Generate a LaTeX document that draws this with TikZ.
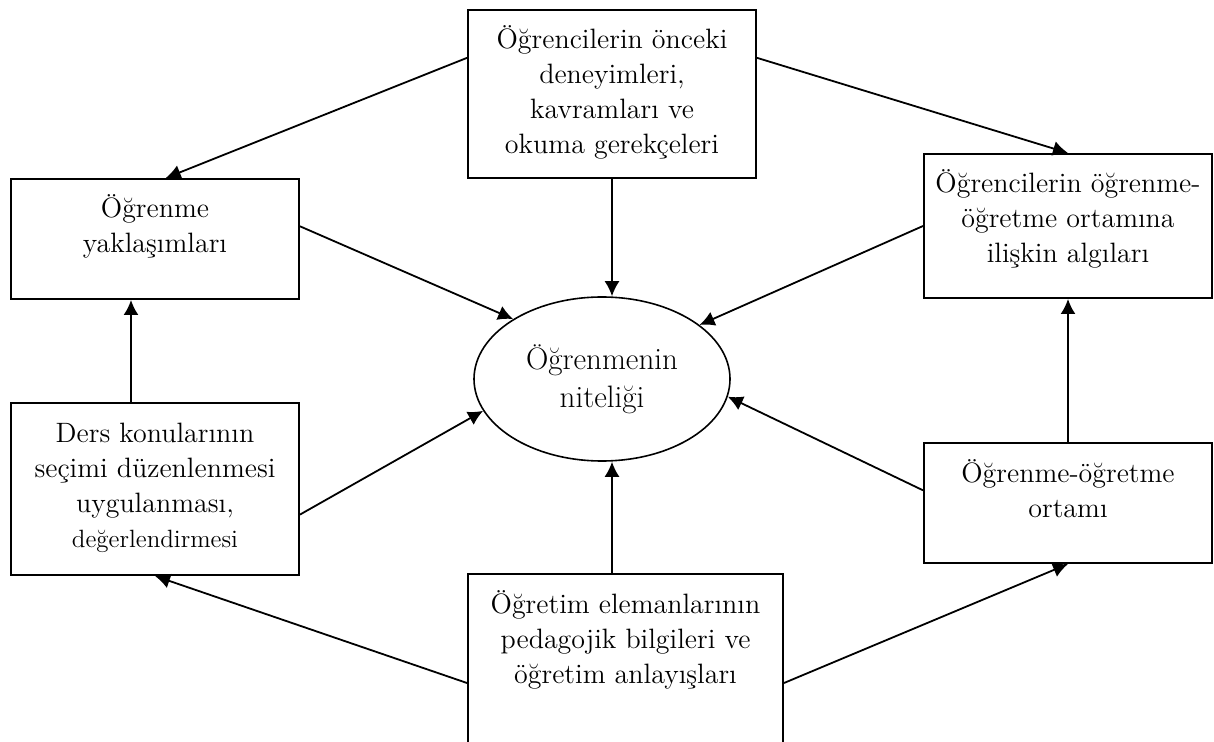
\documentclass[tikz,border=0pt]{standalone}
\usepackage{fontspec}
\usepackage{tikz}
\usetikzlibrary{shapes.geometric, arrows.meta}
\newcommand{\kutuyazi}[3]{\parbox[b][#2][t]{#1}{\centering\rule{0pt}{19.5pt}#3}}

\begin{document}
\begin{tikzpicture}[x=.5pt, y=-.5pt, font=\fontsize{14}{17.5}\selectfont,
	kutu/.style={draw, line width=1pt, inner sep=0pt, anchor=north west},
	ok/.style={line width=.9pt, -{Latex[length=7.5pt, width=7.5pt]}}]
	\useasboundingbox (0, 0) rectangle (1214, 742);
	\node[kutu](ust) at (467, 9) {\kutuyazi{144pt}{84pt}{Öğrencilerin önceki\\deneyimleri,\\kavramları ve\\okuma gerekçeleri}};
	\node[kutu](sol1) at (10, 178) {\kutuyazi{144pt}{60pt}{Öğrenme\\yaklaşımları}};
	\node[kutu](sag1) at (923, 153) {\kutuyazi{144pt}{72pt}{Öğrencilerin öğrenme-\\öğretme ortamına\\ilişkin algıları}};
	\node[kutu](sol2) at (10, 402) {\kutuyazi{144pt}{86pt}{Ders konularının\\seçimi düzenlenmesi\\uygulanması,\\{\fontsize{12.5}{15}\selectfont değerlendirmesi}}};
	\node[kutu](sag2) at (923, 442) {\kutuyazi{144pt}{60pt}{Öğrenme-öğretme\\ortamı}};
	\node[kutu](alt) at (467, 573) {\kutuyazi{157.5pt}{109pt}{Öğretim elemanlarının\\pedagojik bilgileri ve\\öğretim anlayışları}};
	\node[draw, ellipse, line width=.8pt, inner sep=0pt, minimum width=128pt, minimum height=82pt,
		align=center, font=\fontsize{15.5}{19}\selectfont](elips) at (602, 379) {Öğrenmenin\\niteliği};
	% oklar
	\draw[ok](ust.166)--(sol1.80);
	\draw[ok](ust.14)--(sag1.north);
	\draw[ok](ust.south)--(ust.south |- elips.north);
	\draw[ok](sol1.5)--(elips.146);
	\draw[ok](sag1.west)--(elips.29);
	\draw[ok]([xshift=-12pt]sol2.north)--([xshift=-12pt]sol1.south);
	\draw[ok](sag2.north)--(sag1.south);
	\draw[ok](sol2.350)--(elips.195);
	\draw[ok](sag2.175)--(elips.352);
	\draw[ok](ust.south |- alt.north)--(ust.south |- elips.south);
	\draw[ok](alt.west)--(sol2.south);
	\draw[ok](alt.east)--(sag2.south);
\end{tikzpicture}
\end{document}
